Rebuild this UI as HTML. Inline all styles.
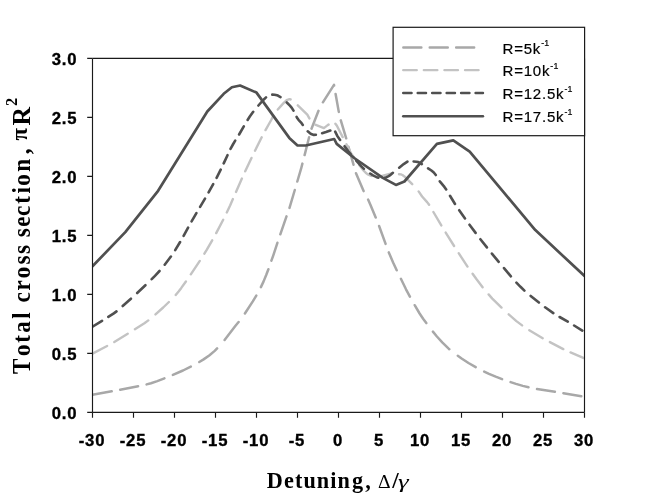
<!DOCTYPE html>
<html><head><meta charset="utf-8"><title>chart</title>
<style>
html,body{margin:0;padding:0;background:#fff;}
body{width:647px;height:497px;overflow:hidden;position:relative;font-family:"Liberation Sans",sans-serif;}
svg{position:absolute;left:0;top:0;will-change:transform;}
.ax{stroke:#1a1a1a;stroke-width:1.15;fill:none;}
.s{fill:none;stroke-linecap:round;stroke-linejoin:round;}
.tk{font-family:"Liberation Sans",sans-serif;font-weight:bold;font-size:16.7px;letter-spacing:0.8px;fill:#000;stroke:#000;stroke-width:0.35px;}
.lg{font-family:"Liberation Sans",sans-serif;font-size:15px;letter-spacing:0.8px;fill:#000;stroke:#000;stroke-width:0.2px;}
.tt{font-family:"Liberation Serif",serif;font-weight:bold;font-size:21.3px;fill:#000;}
</style></head><body>
<svg width="647" height="497" viewBox="0 0 647 497">
<rect x="0" y="0" width="647" height="497" fill="#fff"/>
<defs><clipPath id="pc"><rect x="92" y="58" width="493" height="355"/></clipPath></defs>
<g clip-path="url(#pc)">
<path class="s" stroke="#a8a8a8" stroke-width="2.5" d="M92.5 394.7 L111.7 391.3M120.2 389.7 L138.1 386.2M146.6 384.4 L151.0 383.2 L157.3 381.1 L164.4 378.4M172.9 374.9 L183.0 370.5 L190.8 366.6M199.3 362.0 L203.6 359.4 L209.2 355.5 L214.7 350.9 L217.1 348.4M224.6 339.9 L235.5 325.8 L238.6 322.0M244.9 313.5 L252.8 301.4 L256.3 295.6M260.9 287.1 L263.6 281.4 L266.2 275.0 L268.4 269.2M271.4 260.7 L273.3 255.3 L277.4 242.8M280.3 234.3 L286.5 216.4M289.5 207.9 L294.8 190.0M297.3 181.5 L301.1 168.7 L302.4 163.6M304.6 155.1 L309.1 137.2M311.5 128.7 L318.5 110.8M322.9 102.3 L334.0 84.9 L334.1 85.5M335.6 94.0 L338.8 111.9M340.8 120.4 L346.2 138.3M348.5 146.8 L353.5 164.7M356.0 173.2 L363.6 191.1M368.1 199.6 L370.5 205.0 L375.7 217.5M379.1 226.0 L385.6 243.9M388.8 252.4 L393.1 262.5 L396.7 270.3M400.9 278.8 L406.0 289.3 L409.9 296.7M414.7 305.2 L419.6 313.5 L423.1 318.7 L426.3 323.1M432.9 331.6 L436.9 336.5 L442.5 342.7 L448.4 348.4 L449.3 349.2M457.8 355.8 L461.6 358.5 L468.5 363.0 L475.7 367.2M484.2 371.6 L489.0 373.8 L495.7 376.6 L502.1 379.1M510.6 382.1 L516.0 383.9 L522.8 385.9 L528.5 387.3M537.0 389.1 L554.9 391.8M563.4 393.2 L581.3 396.2"/>
<path class="s" stroke="#c3c3c3" stroke-width="2.4" d="M92.5 353.6 L107.1 346.0M114.3 342.0 L127.7 333.7M134.9 329.2 L144.4 323.3 L148.3 320.4M155.5 314.4 L163.2 307.5 L168.9 302.0M175.7 294.9 L178.6 291.4 L181.3 287.9 L185.9 281.5M190.8 274.3 L199.8 260.9M204.4 253.7 L206.7 249.9 L212.2 240.3M216.2 233.1 L223.2 219.7M226.8 212.5 L230.1 205.5 L232.9 199.1M236.0 191.9 L241.9 178.5M245.2 171.3 L251.5 157.9M255.0 150.7 L261.7 137.3M265.5 130.1 L271.5 119.5 L272.8 116.7M277.8 109.5 L281.7 105.1 L283.8 102.9 L286.4 100.4 L287.4 99.8 L289.4 99.2 L290.2 99.2 L290.6 99.4M297.8 105.3 L307.3 114.6 L309.4 118.4M315.2 124.7 L323.9 128.1 L327.7 125.1 L328.6 124.6M335.4 123.7 L336.9 125.7 L342.7 137.1M346.4 144.3 L350.8 153.0 L354.1 157.7M359.2 164.9 L363.5 170.5 L365.7 172.7 L367.4 174.1 L368.9 174.9 L371.2 175.9M378.4 176.6 L381.3 176.1 L390.5 173.6 L391.8 173.4M399.0 174.2 L400.9 174.4 L402.4 175.0 L404.4 176.4 L407.4 179.3 L412.2 184.2M418.6 191.4 L419.3 192.4 L422.1 196.5 L427.1 202.1 L429.1 204.8M433.4 212.0 L441.3 225.4M445.7 232.6 L454.1 246.0M458.7 253.2 L467.5 266.6M472.6 273.8 L476.2 278.8 L482.6 287.2M488.6 294.4 L492.3 298.6 L496.4 302.7 L501.5 307.6M508.7 314.3 L516.4 321.1 L522.1 325.4M529.3 330.2 L542.7 338.2M549.9 342.1 L563.3 349.1M570.5 352.4 L583.9 358.1"/>
<path class="s" stroke="#505050" stroke-width="2.6" d="M92.5 326.6 L102.0 320.8M108.3 316.9 L113.8 313.4 L116.5 311.4M122.7 306.0 L130.9 298.7M137.2 293.0 L145.4 285.2M151.7 279.2 L155.0 275.8 L159.5 271.0M164.7 264.7 L170.9 256.5M175.2 250.2 L180.1 242.0M183.6 235.8 L188.1 227.6M191.6 221.3 L196.4 213.1M200.1 206.8 L205.0 198.6M208.6 192.4 L213.2 184.2M216.6 177.9 L220.7 169.7M223.7 163.4 L227.5 155.2M230.5 148.9 L233.2 144.0 L235.2 140.7M239.1 134.5 L243.8 126.3M247.6 120.0 L249.8 116.5 L253.2 111.8M258.4 105.5 L264.1 99.2 L266.0 97.4M272.3 94.6 L274.5 94.7 L277.0 95.3 L278.3 95.8 L280.5 97.1M286.8 102.5 L289.9 105.6 L291.8 107.8 L293.5 110.6M296.6 116.8 L297.4 118.3 L298.5 119.8 L301.1 122.6 L302.8 125.0M307.7 131.3 L309.8 133.1 L311.8 134.3 L313.9 134.9 L315.9 134.8M322.1 133.2 L326.0 132.0 L330.3 130.5M335.2 131.7 L337.3 135.9 L340.1 139.9M344.6 146.2 L348.3 151.2 L350.8 154.4M356.2 160.7 L361.4 166.3 L363.9 168.8M370.2 173.5 L373.0 175.3 L375.1 176.4 L376.9 177.2 L378.4 177.7M384.7 177.8 L386.6 177.2 L388.2 176.4 L389.8 175.4 L392.9 172.8M399.2 167.7 L403.7 164.1 L407.4 161.6M413.6 161.5 L416.3 161.7 L418.4 162.1 L419.8 162.7 L421.8 164.1M428.1 168.3 L431.4 170.5 L433.8 172.5 L435.8 175.0M439.8 181.3 L444.4 186.9 L446.2 189.5M450.0 195.8 L455.0 204.0M459.2 210.2 L465.0 218.4M469.5 224.7 L475.6 232.9M480.4 239.2 L486.9 247.4M491.9 253.6 L498.7 261.8M504.0 268.1 L510.9 276.3M516.4 282.6 L520.5 286.8 L524.4 290.6M530.7 295.9 L538.9 302.5M545.1 307.3 L553.3 313.1M559.6 317.0 L567.8 321.7M574.1 325.5 L582.3 330.6"/>
<polyline class="s" stroke="#505050" stroke-width="2.7" points="92.5,266.3 125.3,232.1 158.1,190.8 207.3,111.5 223.7,93.8 231.9,87.3 240.1,85.5 256.5,92.6 289.3,137.9 297.5,145.5 305.7,145.5 334.2,139.0 336.7,143.9 354.9,158.5 382.8,177.9 395.9,184.9 404.4,181.5 436.9,143.9 453.3,140.4 469.7,151.6 502.5,190.8 535.3,230.1 584.5,276.0"/>
</g>
<path class="ax" d="M92.5 58.4 V412.4 M584.5 58.4 V412.4 M92.5 58.4 H584.5 M92.5 412.4 H584.5"/>
<path class="ax" d="M92.5 412.4 V417.7 M133.5 412.4 V417.7 M174.5 412.4 V417.7 M215.5 412.4 V417.7 M256.5 412.4 V417.7 M297.5 412.4 V417.7 M338.5 412.4 V417.7 M379.5 412.4 V417.7 M420.5 412.4 V417.7 M461.5 412.4 V417.7 M502.5 412.4 V417.7 M543.5 412.4 V417.7 M584.5 412.4 V417.7 M87.2 412.4 H92.5 M87.2 353.4 H92.5 M87.2 294.4 H92.5 M87.2 235.4 H92.5 M87.2 176.4 H92.5 M87.2 117.4 H92.5 M87.2 58.4 H92.5 "/>
<text class="tk" x="77.4" y="418.9" text-anchor="end">0.0</text>
<text class="tk" x="77.4" y="359.9" text-anchor="end">0.5</text>
<text class="tk" x="77.4" y="300.9" text-anchor="end">1.0</text>
<text class="tk" x="77.4" y="241.9" text-anchor="end">1.5</text>
<text class="tk" x="77.4" y="182.9" text-anchor="end">2.0</text>
<text class="tk" x="77.4" y="123.9" text-anchor="end">2.5</text>
<text class="tk" x="77.4" y="64.9" text-anchor="end">3.0</text>
<text class="tk" x="92.0" y="446" text-anchor="middle">-30</text>
<text class="tk" x="133.0" y="446" text-anchor="middle">-25</text>
<text class="tk" x="174.0" y="446" text-anchor="middle">-20</text>
<text class="tk" x="215.0" y="446" text-anchor="middle">-15</text>
<text class="tk" x="256.0" y="446" text-anchor="middle">-10</text>
<text class="tk" x="297.0" y="446" text-anchor="middle">-5</text>
<text class="tk" x="338.0" y="446" text-anchor="middle">0</text>
<text class="tk" x="379.0" y="446" text-anchor="middle">5</text>
<text class="tk" x="420.0" y="446" text-anchor="middle">10</text>
<text class="tk" x="461.0" y="446" text-anchor="middle">15</text>
<text class="tk" x="502.0" y="446" text-anchor="middle">20</text>
<text class="tk" x="543.0" y="446" text-anchor="middle">25</text>
<text class="tk" x="584.0" y="446" text-anchor="middle">30</text>
<rect x="393.1" y="27.3" width="191.5" height="108.4" fill="#fff" stroke="#1a1a1a" stroke-width="1.2"/>
<path class="s" stroke="#a8a8a8" stroke-width="2.4" stroke-dasharray="18.1 8.3" d="M403.3 47.5 H480"/>
<path class="s" stroke="#c3c3c3" stroke-width="2.3" stroke-dasharray="13.6 7.0" d="M403.2 70.2 H483"/>
<path class="s" stroke="#505050" stroke-width="2.4" stroke-dasharray="8.4 6.07" d="M403.2 93.0 H483"/>
<path class="s" stroke="#505050" stroke-width="2.4" d="M403.2 116.3 H483"/>
<text class="lg" x="502.5" y="53.5">R=5k<tspan dy="-7.3" style="font-size:8.8px;letter-spacing:0.3px">-1</tspan></text>
<text class="lg" x="502.5" y="76.2">R=10k<tspan dy="-7.3" style="font-size:8.8px;letter-spacing:0.3px">-1</tspan></text>
<text class="lg" x="502.5" y="99.0">R=12.5k<tspan dy="-7.3" style="font-size:8.8px;letter-spacing:0.3px">-1</tspan></text>
<text class="lg" x="502.5" y="122.3">R=17.5k<tspan dy="-7.3" style="font-size:8.8px;letter-spacing:0.3px">-1</tspan></text>
<text class="tt" transform="translate(266.8 488) scale(0.95 1)" style="font-size:23.4px;letter-spacing:1.15px" dx="0 0 0 0 0 0 0 0.9 1.2">Detuning,</text>
<text class="tt" x="377.9" y="488" style="font-size:19.6px;font-weight:normal">&#916;</text>
<text class="tt" x="392.3" y="488" style="font-size:23.4px">/</text>
<text class="tt" transform="translate(397.9 487.7) scale(1.35 0.95)" style="font-size:20px;font-weight:normal;font-style:italic">&#947;</text>
<text class="tt" transform="translate(30.2 374.2) rotate(-90) scale(0.9 1)" style="font-size:25.6px;letter-spacing:2.45px;word-spacing:-0.5px" dx="0.33 2.78 -0.67 0.23 0.39 0.00 0.00 -0.56 0.28 0.00 -0.78 0.00 -2.00 -0.89 -1.67 -0.17 0.17 -0.89 0.44 2.66">Total cross section,</text>
<text class="tt" transform="translate(27.3 140.6) rotate(-90)" style="font-size:23px">&#960;</text>
<text class="tt" transform="translate(30.2 125.4) rotate(-90)" style="font-size:25.6px">R</text>
<text class="tt" transform="translate(16.6 106) rotate(-90)" style="font-size:16.3px">2</text>
</svg>
</body></html>
